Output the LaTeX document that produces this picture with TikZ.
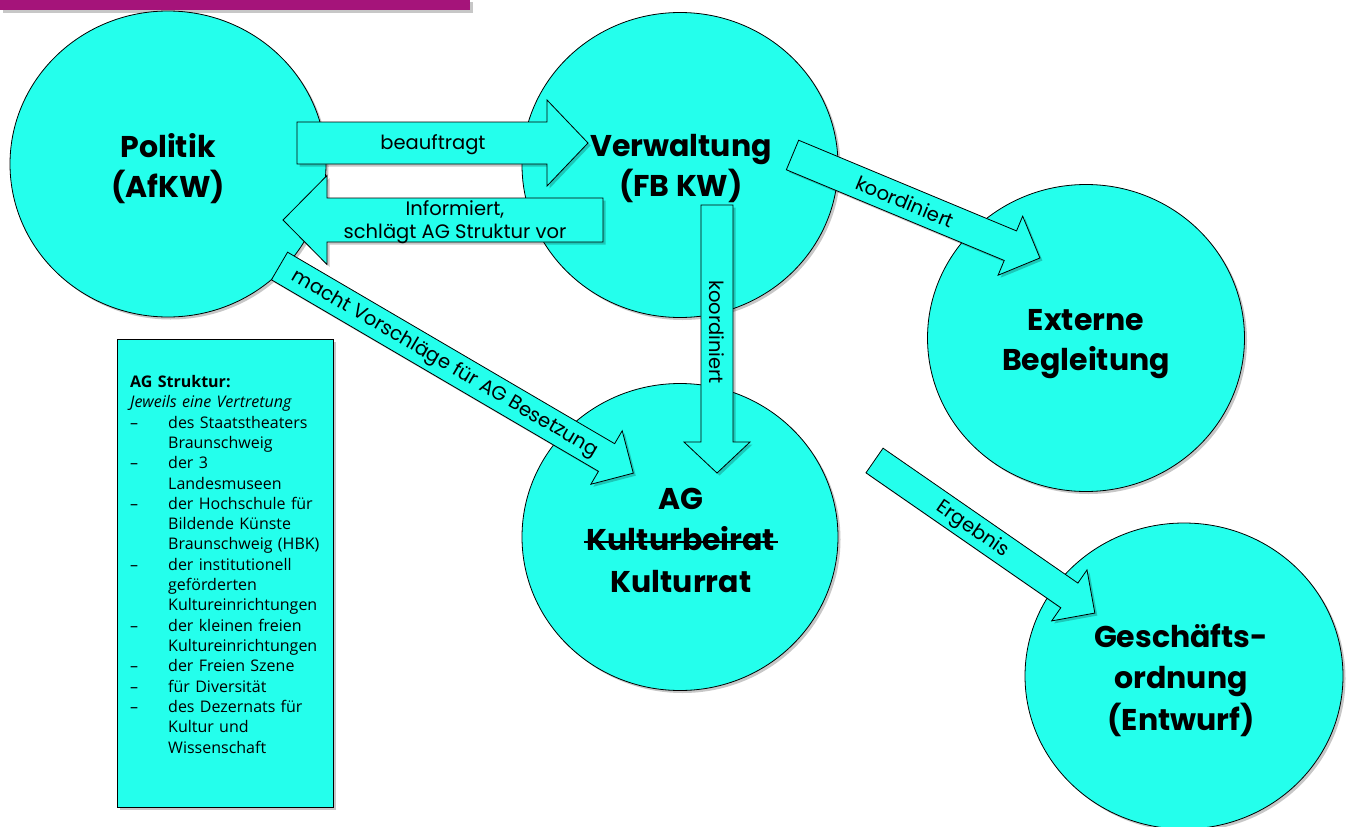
\documentclass[tikz,border=0pt]{standalone}
\usepackage{fontspec}
\newfontfamily\pop{Poppins}
\newfontfamily\boxfont{Open Sans}
\usetikzlibrary{shadows,shapes.geometric}
\definecolor{cy}{RGB}{36,255,236}
\definecolor{mag}{RGB}{165,20,122}
\newcommand\arrowshape[4]{\draw[barrow] (0,-#2) -- ({#1-#4},-#2) -- ({#1-#4},-#3) -- (#1,0) -- ({#1-#4},#3) -- ({#1-#4},#2) -- (0,#2) -- cycle;}
\newcommand\strikeword[1]{\sbox0{#1}\rlap{\hspace{-3pt}\rule[7.5pt]{\dimexpr\wd0+6pt\relax}{2.5pt}}\usebox0}
\newcommand\itm[1]{\makebox[38pt][l]{–}#1}
\newcommand\cnt[1]{\hspace*{38pt}#1}
\begin{document}
\begin{tikzpicture}[x=1pt,y=-1pt,
  shad/.style={drop shadow={shadow xshift=2.5pt,shadow yshift=-2.5pt,opacity=0.22,fill=black}},
  bub/.style={ellipse,draw=black,line width=0.8pt,fill=cy,inner sep=0pt,shad},
  barrow/.style={draw=black,line width=0.8pt,fill=cy,line join=miter,shad},
  alabel/.style={font=\pop\fontsize{19.5}{23}\selectfont,inner sep=0pt,align=center},
  blabel/.style={inner sep=0pt,align=center}]
\useasboundingbox (0,0) rectangle (1347,827);
\fill[white] (0,0) rectangle (1347,827);
% top bar
\node[fill=mag,minimum width=470pt,minimum height=11pt,anchor=north west,inner sep=0pt,shad] (bar) at (0,-1) {};
% circles
\node[bub,minimum width=316pt,minimum height=306pt] (pol) at (168,164) {};
\node[bub,minimum width=316pt,minimum height=305pt] (ver) at (680,165) {};
\node[bub,minimum width=316pt,minimum height=307pt] (ag) at (680,537) {};
\node[bub,minimum width=317pt,minimum height=307pt] (ext) at (1086,338) {};
\node[bub,minimum width=318pt,minimum height=306pt] (go) at (1184,676) {};
% arrows
\begin{scope}[shift={(297,143)}]
  \arrowshape{291}{21}{43}{41}
  \node[alabel] (tbeauf) at (136,2) {beauftragt};
\end{scope}
\begin{scope}[shift={(603,220)},rotate=180]
  \arrowshape{320}{22}{44.5}{44}
\end{scope}
\node[alabel] (tinfo) at (455,222) {Informiert,\\schlägt AG Struktur vor};
\begin{scope}[shift={(279.5,266)},rotate=-30.35]
  \arrowshape{410}{16}{31}{31}
  \node[alabel,transform shape] (tmacht) at (192,1) {macht Vorschläge für AG Besetzung};
\end{scope}
\begin{scope}[shift={(717,205)},rotate=-90]
  \arrowshape{268}{16}{33}{31}
  \node[alabel,transform shape] (tkoord1) at (127,0) {koordiniert};
\end{scope}
\begin{scope}[shift={(792.5,155)},rotate=-22.6]
  \arrowshape{268}{16}{32}{32}
  \node[alabel,transform shape] (tkoord2) at (122,0) {koordiniert};
\end{scope}
\begin{scope}[shift={(874.5,460.5)},rotate=-34.7]
  \arrowshape{268}{15}{31}{31}
  \node[alabel,transform shape] (terg) at (120,1) {Ergebnis};
\end{scope}
% circle labels
\node[blabel,font=\pop\bfseries\fontsize{30}{40}\selectfont] (lpol) at (168,169) {Politik\\(AfKW)};
\node[blabel,font=\pop\bfseries\fontsize{30}{40}\selectfont] (lver) at (681,169) {Verwaltung\\(FB KW)};
\node[blabel,font=\pop\bfseries\fontsize{30}{40}\selectfont] (lext) at (1086,344) {Externe\\Begleitung};
\node[blabel,font=\pop\bfseries\fontsize{30}{41.5}\selectfont] (lag) at (681,540) {AG\\\strikeword{Kulturbeirat}\\Kulturrat};
\node[blabel,font=\pop\bfseries\fontsize{30}{41.5}\selectfont] (lgo) at (1181,680) {Geschäfts-\\ordnung\\(Entwurf)};
% structure box
\node[draw=black,line width=0.8pt,fill=cy,shad,minimum width=216pt,minimum height=468pt,anchor=north west,inner sep=0pt] (box) at (117,339) {};
\node[anchor=north west,inner sep=0pt,text width=205pt,align=left,font=\boxfont\fontsize{16}{20.33}\selectfont] (boxtxt) at (130,375)
{\rule{0pt}{12pt}\textbf{AG Struktur:}\\
\textit{Jeweils eine Vertretung}\\
\itm{des Staatstheaters}\\
\cnt{Braunschweig}\\
\itm{der 3}\\
\cnt{Landesmuseen}\\
\itm{der Hochschule für}\\
\cnt{Bildende Künste}\\
\cnt{Braunschweig (HBK)}\\
\itm{der institutionell}\\
\cnt{geförderten}\\
\cnt{Kultureinrichtungen}\\
\itm{der kleinen freien}\\
\cnt{Kultureinrichtungen}\\
\itm{der Freien Szene}\\
\itm{für Diversität}\\
\itm{des Dezernats für}\\
\cnt{Kultur und}\\
\cnt{Wissenschaft}};
\end{tikzpicture}
\end{document}
